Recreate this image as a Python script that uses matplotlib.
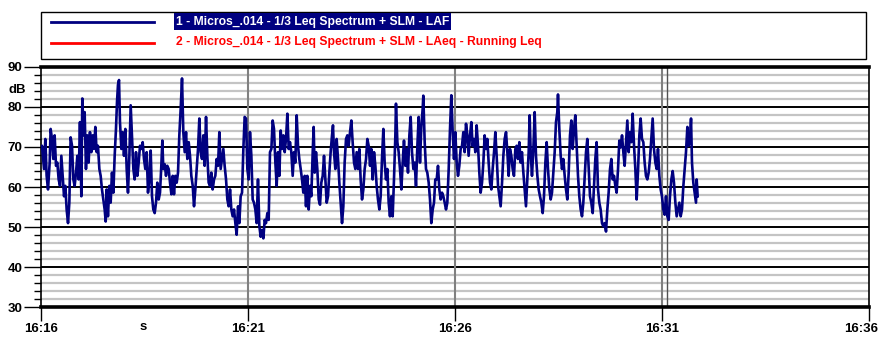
import matplotlib
matplotlib.use('Agg')

import matplotlib.pyplot as plt
import matplotlib.transforms as mtransforms
from matplotlib.lines import Line2D
from matplotlib.patches import Rectangle
import numpy as np

# LAF readings: seconds after 16:16:00 and dB values in five stretches
seg1_t = [0.0, 1.9, 4.8, 6.7, 8.6, 10.6, 13.0, 14.4, 16.4, 18.3,
          20.2, 22.2, 24.1, 26.0, 28.0, 29.9, 31.8, 33.8, 35.7, 37.6,
          39.6, 41.5, 43.4, 45.4, 47.3, 49.2, 51.2, 53.1, 55.0, 56.9,
          58.9, 60.3, 62.3, 63.7, 65.6, 67.6, 69.5, 71.4, 73.4, 75.3,
          77.2, 79.2, 81.1, 83.0, 85.0, 86.9, 88.8, 90.8, 92.7, 94.2,
          95.6, 97.5, 99.5, 101.4, 103.3, 105.3, 107.2, 109.1, 110.6, 112.0,
          113.5, 114.9, 116.9, 118.8, 120.7, 122.7, 124.6, 126.5, 128.5, 130.4,
          132.3, 134.3, 136.2, 138.1, 140.1, 142.0, 143.9, 145.9, 147.8, 149.7,
          151.6, 153.6, 155.5, 157.4, 159.4, 161.3, 163.2, 165.2, 167.1, 169.0,
          171.0, 172.9, 174.8, 176.3, 177.7, 179.7, 181.6, 183.5, 185.5, 187.4,
          189.4]
seg1_db = [70.0, 70.3, 64.5, 72.0, 62.8, 59.4, 66.1, 74.5, 72.0, 67.0,
           72.9, 65.3, 66.1, 61.9, 60.3, 67.8, 62.8, 57.7, 60.3, 54.4,
           51.0, 56.1, 72.4, 70.3, 61.9, 60.3, 63.6, 67.8, 61.9, 76.2,
           57.7, 82.1, 72.9, 78.7, 64.5, 72.9, 66.1, 73.7, 68.7, 72.9,
           69.5, 75.0, 68.7, 70.3, 64.5, 62.8, 59.4, 56.9, 54.4, 51.4,
           59.4, 52.7, 60.3, 56.1, 63.6, 58.6, 67.8, 74.5, 81.3, 85.5,
           86.7, 76.2, 69.5, 73.7, 67.8, 74.5, 64.5, 58.6, 67.8, 80.4,
           72.9, 64.5, 61.9, 68.7, 62.8, 66.1, 70.3, 69.5, 71.2, 67.0,
           64.5, 68.7, 58.6, 61.9, 69.1, 57.7, 54.4, 53.5, 56.1, 61.1,
           56.9, 58.6, 65.3, 71.6, 64.5, 65.7, 62.8, 65.3, 64.5, 61.1,
           58.2]

seg2_t = [191.3, 193.2, 195.1, 197.1, 199.0, 200.9, 202.9, 204.8, 206.7, 208.7,
          210.6, 212.5, 214.5, 216.4, 218.3, 220.3, 222.2, 224.1, 226.0, 228.0,
          229.9, 231.8, 233.8, 235.7, 237.6, 239.6, 241.5, 243.4, 245.4, 247.3,
          249.2, 251.2, 253.1, 255.0, 257.0, 258.9, 260.8, 262.8, 264.7, 266.6,
          268.6, 270.5, 272.4, 274.4, 276.3, 278.2, 280.2, 282.1, 284.0, 286.0,
          287.9, 289.8, 291.8, 293.7, 295.6, 297.5, 299.5, 301.4, 303.3, 305.3,
          307.2, 309.1, 311.1, 313.0, 314.9, 316.9, 318.8, 320.7, 322.7, 324.6,
          326.5, 328.5, 330.4, 332.3, 334.3, 336.2, 338.1, 340.1, 342.0, 343.9,
          345.9, 347.8, 349.7, 351.7, 353.6, 355.5, 357.5, 359.4, 361.3, 363.2,
          365.2, 367.1, 369.0, 371.0, 372.9, 374.8, 376.8, 378.7, 380.6]
seg2_db = [62.8, 58.2, 62.8, 61.1, 63.6, 72.9, 79.6, 87.1, 73.7, 68.7,
           73.7, 67.0, 71.2, 67.8, 62.8, 60.3, 55.2, 59.4, 64.5, 69.5,
           77.1, 68.7, 67.0, 72.9, 65.3, 77.5, 67.8, 61.1, 60.3, 63.6,
           59.4, 61.9, 62.8, 67.0, 65.3, 73.7, 64.5, 67.0, 69.5, 65.3,
           61.9, 56.9, 55.2, 59.4, 54.4, 52.7, 54.4, 51.0, 48.1, 55.2,
           51.0, 57.7, 58.6, 69.5, 77.5, 77.1, 64.5, 61.9, 73.7, 67.8,
           56.9, 56.1, 54.4, 51.0, 61.9, 50.2, 47.6, 49.3, 47.2, 51.8,
           51.0, 53.5, 51.8, 68.7, 69.5, 76.6, 74.5, 66.1, 60.3, 68.7,
           62.8, 74.1, 69.5, 72.9, 68.7, 72.0, 78.3, 69.5, 71.2, 68.7,
           62.8, 68.7, 66.1, 77.9, 70.3, 67.0, 64.5, 61.9, 58.6]

seg3_t = [382.6, 384.5, 386.4, 388.4, 390.3, 392.2, 394.2, 395.6, 397.1, 399.0,
          400.9, 402.9, 404.8, 406.7, 408.7, 410.6, 412.5, 414.5, 416.4, 418.3,
          420.2, 422.2, 423.6, 425.1, 427.0, 428.9, 430.9, 432.8, 434.7, 436.7,
          438.6, 440.5, 442.5, 444.4, 446.3, 448.3, 450.2, 452.1, 454.1, 456.0,
          457.9, 459.9, 461.8, 463.7, 465.7, 467.6, 469.5, 471.5, 473.4, 475.3,
          477.3, 479.2, 481.1, 483.1, 485.0, 486.9, 488.8, 490.8, 492.7, 494.6,
          496.6, 498.5, 500.4, 502.4, 504.3, 506.2, 508.2, 510.1, 512.0, 514.0,
          514.9, 516.9, 518.8, 520.7, 522.7, 524.6, 526.5, 528.5, 530.4, 532.3,
          534.3, 536.2, 538.1, 540.1, 542.0, 543.9, 545.9, 547.8, 549.7, 551.6,
          553.6, 554.5, 556.5, 558.4, 560.3, 562.3, 564.2, 566.1, 568.1, 570.0,
          571.9]
seg3_db = [62.8, 55.2, 62.8, 54.4, 60.3, 57.7, 68.7, 75.0, 63.6, 68.7,
           64.5, 56.9, 55.6, 61.1, 62.8, 67.8, 61.9, 56.1, 57.7, 63.6,
           68.7, 72.9, 75.4, 68.7, 64.5, 72.0, 67.0, 61.1, 56.1, 51.0,
           55.2, 66.1, 72.0, 72.9, 70.3, 73.7, 76.6, 71.2, 66.1, 64.5,
           68.7, 64.5, 69.5, 61.9, 56.9, 59.4, 64.5, 67.0, 72.0, 70.3,
           65.3, 69.5, 61.9, 68.7, 65.3, 60.3, 56.9, 54.4, 57.7, 67.0,
           74.5, 66.1, 61.9, 64.5, 56.1, 52.7, 57.7, 52.7, 61.9, 72.9,
           80.8, 71.2, 68.7, 64.5, 59.4, 66.1, 71.6, 65.3, 69.5, 63.6,
           72.9, 77.5, 68.7, 64.5, 66.1, 60.3, 70.3, 77.5, 66.1, 75.0,
           79.6, 82.8, 71.2, 64.5, 63.6, 61.1, 56.9, 51.0, 54.4, 56.1,
           61.9]

seg4_t = [573.9, 575.8, 577.7, 579.7, 581.6, 583.5, 585.5, 587.4, 589.3, 591.3,
          593.2, 595.1, 597.1, 599.0, 600.9, 602.9, 604.8, 606.7, 608.6, 610.6,
          612.5, 614.4, 616.4, 618.3, 620.2, 622.2, 624.1, 626.0, 628.0, 629.9,
          631.8, 633.8, 635.7, 637.6, 639.6, 641.5, 643.4, 645.4, 647.3, 649.2,
          651.2, 653.1, 655.0, 657.0, 658.9, 660.8, 662.8, 664.7, 666.6, 668.6,
          670.5, 672.4, 674.4, 676.3, 678.2, 680.1, 682.1, 684.0, 685.9, 687.9,
          689.8, 691.7, 693.7, 695.6, 697.5, 699.5, 701.4, 703.3, 705.3, 707.2,
          708.6, 710.1, 712.0, 714.0, 715.9, 717.8, 719.8, 721.7, 723.6, 725.6,
          727.5, 729.4, 731.4, 733.3, 735.2, 737.2, 739.1, 741.0, 743.0, 744.9,
          746.8, 748.7, 749.7, 751.6, 753.6, 755.5, 757.4, 759.4, 761.3, 763.2]
seg4_db = [61.9, 65.3, 59.4, 56.9, 58.6, 57.7, 56.1, 54.4, 56.1, 64.5,
           74.5, 82.9, 73.7, 67.0, 73.7, 66.1, 62.8, 65.3, 69.5, 70.3,
           73.7, 68.7, 75.8, 72.9, 67.8, 72.9, 76.2, 70.3, 72.0, 68.7,
           75.4, 70.3, 63.6, 58.6, 61.1, 66.1, 72.9, 69.5, 72.0, 66.1,
           61.1, 59.4, 64.5, 68.7, 73.7, 67.8, 60.3, 57.7, 55.2, 61.1,
           67.8, 72.0, 73.7, 68.7, 62.8, 69.5, 67.8, 64.5, 62.8, 69.5,
           70.3, 67.0, 71.2, 66.1, 68.7, 63.6, 59.4, 55.2, 61.9, 68.7,
           77.9, 68.7, 62.8, 69.5, 78.7, 67.8, 62.8, 59.4, 57.7, 56.1,
           53.5, 57.7, 66.1, 71.2, 64.5, 59.4, 56.9, 58.6, 63.6, 68.7,
           76.2, 78.7, 83.1, 74.5, 67.8, 64.5, 67.0, 62.8, 59.4, 56.9]

seg5_t = [765.2, 767.1, 769.0, 771.0, 772.9, 774.8, 776.8, 778.7, 780.6, 782.6,
          784.5, 786.4, 788.4, 790.3, 792.2, 794.2, 796.1, 798.0, 800.0, 801.9,
          803.8, 805.7, 807.7, 809.6, 811.5, 813.5, 815.4, 817.3, 819.3, 821.2,
          823.1, 825.1, 827.0, 828.9, 830.9, 832.8, 834.7, 836.7, 838.6, 840.5,
          842.5, 844.4, 846.3, 848.3, 850.2, 852.1, 854.1, 856.0, 857.9, 859.9,
          861.8, 863.7, 865.6, 867.6, 869.5, 871.4, 873.4, 875.3, 877.2, 879.2,
          881.1, 883.0, 885.0, 886.9, 888.8, 890.8, 892.7, 894.6, 896.6, 898.5,
          900.4, 902.4, 904.3, 906.2, 908.2, 910.1, 912.0, 914.0, 915.9, 917.8,
          919.8, 921.7, 923.6, 925.6, 927.5, 929.4, 931.4, 933.3, 935.2, 937.2,
          939.1, 941.0, 942.5, 943.9, 945.8, 947.8, 949.7, 950.7, 952.1]
seg5_db = [63.6, 72.9, 76.6, 69.5, 74.5, 77.9, 70.3, 62.8, 57.7, 54.4,
           52.7, 56.1, 62.8, 68.7, 72.0, 64.5, 57.7, 56.1, 53.5, 60.3,
           67.0, 71.2, 59.4, 56.1, 54.4, 51.0, 50.2, 51.0, 48.9, 54.4,
           58.6, 64.5, 67.0, 61.9, 62.8, 60.3, 58.6, 64.5, 71.6, 69.9,
           72.9, 68.7, 65.3, 71.2, 76.6, 68.7, 73.7, 71.2, 78.3, 70.3,
           64.5, 56.9, 63.6, 72.9, 77.1, 72.0, 71.2, 66.1, 62.8, 61.9,
           63.6, 67.0, 72.0, 77.1, 69.5, 66.1, 64.5, 69.5, 62.8, 59.4,
           57.7, 54.4, 53.1, 57.7, 52.7, 51.8, 57.7, 61.9, 64.0, 61.1,
           56.1, 52.7, 54.4, 56.1, 52.7, 54.4, 60.3, 64.5, 68.7, 75.0,
           70.3, 72.0, 77.1, 66.1, 61.1, 58.6, 56.1, 61.9, 57.7]

tick_secs = [0, 300, 600, 900, 1200]
tick_labels = ['16:16', '16:21', '16:26', '16:31', '16:36']
marker_secs = [300, 600, 900]
cursor_sec = 908
legend_labels = ['1 - Micros_.014 - 1/3 Leq Spectrum + SLM - LAF',
                 '2 - Micros_.014 - 1/3 Leq Spectrum + SLM - LAeq - Running Leq']

t = np.concatenate([seg1_t, seg2_t, seg3_t, seg4_t, seg5_t])
laf = np.concatenate([seg1_db, seg2_db, seg3_db, seg4_db, seg5_db])

plt.rcParams['font.family'] = ['Liberation Sans', 'DejaVu Sans']
plt.rcParams['font.weight'] = 'bold'

W, H = 881, 338
fig = plt.figure(figsize=(W / 100, H / 100), dpi=100)
ax = fig.add_axes([40.7 / W, 30.7 / H, 828 / W, 240.5 / H])

ax.set_xlim(0, 1200)
ax.set_ylim(30, 90)
ax.set_yticks(range(30, 91, 10))
ax.set_yticks(range(30, 91, 2), minor=True)
ax.set_xticks(tick_secs)
ax.set_xticklabels(tick_labels)

# grid: light minor every 2 dB, black every 10 dB
for v in range(32, 90, 2):
    if v % 10:
        ax.axhline(v, color='#c4c4c4', lw=1.6, zorder=1)
for v in range(40, 90, 10):
    ax.axhline(v, color='black', lw=1.4, zorder=1)
ax.axhline(30, color='black', lw=2.6, zorder=4, clip_on=False)
ax.axhline(90, color='black', lw=2.6, zorder=4, clip_on=False)
for s in marker_secs:
    ax.axvline(s, color='#808080', lw=1.5, zorder=2)
ax.axvline(cursor_sec, color='#505050', lw=1.0, zorder=2)

ax.plot(t, laf, color='#000080', lw=1.9, zorder=3)

ax.spines['left'].set_linewidth(1.2)
ax.spines['right'].set_linewidth(1.2)
ax.spines['top'].set_visible(False)
ax.spines['bottom'].set_visible(False)

ax.tick_params(axis='y', which='major', length=12, width=1, pad=1, labelsize=9.5)
ax.tick_params(axis='y', which='minor', length=5, width=1)
ax.tick_params(axis='x', which='major', length=10, width=1, pad=1, labelsize=9.5)

# last time label sits flush with the right edge, as in the original
last = ax.get_xticklabels()[-1]
last.set_horizontalalignment('right')
last.set_transform(last.get_transform() +
                   mtransforms.ScaledTranslation(9 / 100, 0, fig.dpi_scale_trans))

fig.text(17 / W, 1 - 90 / H, 'dB', ha='center', va='center', fontsize=9.5)
fig.text(143 / W, 1 - 327 / H, 's', ha='center', va='center', fontsize=9.5)

# legend box at the top
fig.patches.append(Rectangle((41 / W, 1 - 59 / H), 825 / W, 47 / H,
                             transform=fig.transFigure, facecolor='white',
                             edgecolor='black', lw=1))
fig.lines.append(Line2D([51 / W, 154 / W], [1 - 21.5 / H] * 2,
                        transform=fig.transFigure, color='#000080', lw=2))
fig.lines.append(Line2D([51 / W, 154 / W], [1 - 42.5 / H] * 2,
                        transform=fig.transFigure, color='red', lw=2))
fig.text(176 / W, 1 - 21.5 / H, legend_labels[0], ha='left', va='center',
         fontsize=8.7, color='white',
         bbox=dict(facecolor='#000080', edgecolor='none', pad=1.5))
fig.text(176 / W, 1 - 42.5 / H, legend_labels[1], ha='left', va='center',
         fontsize=8.7, color='red')

fig.savefig('out.png', dpi=100)
